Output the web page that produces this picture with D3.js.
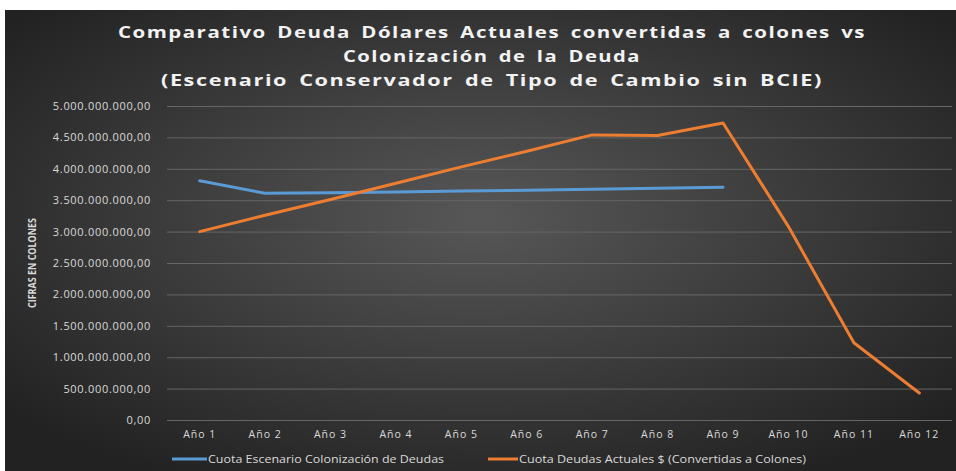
<!DOCTYPE html>
<html>
<head>
<meta charset="utf-8">
<script src="https://cdn.jsdelivr.net/npm/d3@7"></script>
<style>
  html, body { margin: 0; padding: 0; background: #fff; }
  svg text { font-family: "Open Sans", "DejaVu Sans", sans-serif; }
</style>
</head>
<body>
<div id="chart"></div>
<script>
//Datos
const years = ['Año 1','Año 2','Año 3','Año 4','Año 5','Año 6','Año 7','Año 8','Año 9','Año 10','Año 11','Año 12'];
const cuotaColonizacion = [3.81e9, 3.61e9, 3.62e9, 3.63e9, 3.645e9, 3.66e9, 3.675e9, 3.69e9, 3.705e9, null, null, null];
const cuotaDolares = [3.0e9, 3.26e9, 3.51e9, 3.77e9, 4.03e9, 4.28e9, 4.54e9, 4.53e9, 4.73e9, 3.08e9, 1.23e9, 0.43e9];
const yTicks = [0, 5e8, 1e9, 1.5e9, 2e9, 2.5e9, 3e9, 3.5e9, 4e9, 4.5e9, 5e9];
const titleLines = ['Comparativo Deuda Dólares Actuales convertidas a colones vs', 'Colonización de la Deuda', '(Escenario Conservador de Tipo de Cambio sin BCIE)'];
const seriesNames = ['Cuota Escenario Colonización de Deudas', 'Cuota Deudas Actuales $ (Convertidas a Colones)'];

const COLOR_BLUE = '#5B9BD5', COLOR_ORANGE = '#ED7D31';

const W = 956, H = 471;
let margin = {top: 106, right: 4, bottom: 51, left: 167};

let svg = d3.select('#chart').append('svg')
    .attr('width', W).attr('height', H);

//Fondo con degradado
let defs = svg.append('defs');
let grad = defs.append('radialGradient').attr('id', 'bg')
    .attr('cx', '50%').attr('cy', '45%').attr('r', '65%');
grad.append('stop').attr('offset', '0%').attr('stop-color', '#575757');
grad.append('stop').attr('offset', '100%').attr('stop-color', '#222222');

svg.append('rect').attr('x', 5).attr('y', 10).attr('width', W - 5).attr('height', H - 10)
    .attr('fill', 'url(#bg)');

//Título
let titleWidths = [748, 298, 662];
let titleY = [38, 62, 86];
titleLines.forEach(function(t, i) {
    svg.append('text')
        .attr('x', 492).attr('y', titleY[i])
        .attr('text-anchor', 'middle')
        .attr('fill', '#f2f2f2')
        .attr('font-size', '16.5px')
        .attr('font-weight', 'bold')
        .attr('letter-spacing', '1.2px')
        .attr('word-spacing', '3px')
        .attr('textLength', titleWidths[i])
        .attr('lengthAdjust', 'spacingAndGlyphs')
        .text(t);
});

let width = W - margin.left - margin.right,
    height = H - margin.top - margin.bottom;

let chart = svg.append('g')
    .attr('transform', 'translate(' + margin.left + ',' + margin.top + ')');

//Eje X
let x = d3.scaleBand().domain(years).range([0, 785]);

//Eje Y
let y = d3.scaleLinear().domain([0, 5e9]).range([314, 0]);

let locale = d3.formatLocale({decimal: ',', thousands: '.', grouping: [3], currency: ['', '']});
let fmt = locale.format(',.2f');

let yAxis = chart.append('g')
    .call(d3.axisLeft(y).tickValues(yTicks).tickSize(-785).tickFormat(fmt).tickPadding(16));
yAxis.select('.domain').remove();
yAxis.selectAll('.tick line').attr('stroke', '#666666').attr('stroke-width', 1);
yAxis.selectAll('.tick text').attr('fill', '#d9d9d9').attr('font-size', '11px')
    .attr('letter-spacing', '0.7px')
    .style('font-family', '"Open Sans", sans-serif');

let xAxis = chart.append('g')
    .attr('transform', 'translate(0,314)')
    .call(d3.axisBottom(x).tickSize(0).tickPadding(11));
xAxis.select('.domain').remove();
xAxis.selectAll('.tick text').attr('fill', '#d9d9d9').attr('font-size', '10.5px')
    .attr('letter-spacing', '1px')
    .style('font-family', '"Open Sans", sans-serif');

//Título eje Y
svg.append('text')
    .attr('transform', 'translate(36,' + 263 + ') rotate(-90)')
    .attr('text-anchor', 'middle')
    .attr('fill', '#d9d9d9')
    .attr('font-size', '10px')
    .attr('font-weight', 'bold')
    .attr('textLength', 90)
    .attr('lengthAdjust', 'spacingAndGlyphs')
    .text('CIFRAS EN COLONES');

//Líneas
let line = d3.line()
    .defined(function(d) { return d != null; })
    .x(function(d, i) { return x(years[i]) + x.bandwidth() / 2; })
    .y(function(d) { return y(d); });

chart.append('path').datum(cuotaColonizacion)
    .attr('fill', 'none').attr('stroke', COLOR_BLUE).attr('stroke-width', 3)
    .attr('stroke-linejoin', 'round').attr('stroke-linecap', 'round')
    .attr('d', line);

chart.append('path').datum(cuotaDolares)
    .attr('fill', 'none').attr('stroke', COLOR_ORANGE).attr('stroke-width', 3)
    .attr('stroke-linejoin', 'round').attr('stroke-linecap', 'round')
    .attr('d', line);

//Leyenda
let legend = [
    {name: seriesNames[0], color: COLOR_BLUE, x: 172, len: 35, w: 236},
    {name: seriesNames[1], color: COLOR_ORANGE, x: 488, len: 30, w: 287}
];
legend.forEach(function(l) {
    svg.append('line')
        .attr('x1', l.x).attr('x2', l.x + l.len)
        .attr('y1', 459).attr('y2', 459)
        .attr('stroke', l.color).attr('stroke-width', 3);
    svg.append('text')
        .attr('x', l.x + l.len + 1).attr('y', 462.5)
        .attr('fill', '#d9d9d9')
        .attr('font-size', '10px')
        .attr('textLength', l.w)
        .attr('lengthAdjust', 'spacingAndGlyphs')
        .text(l.name);
});
</script>
</body>
</html>
